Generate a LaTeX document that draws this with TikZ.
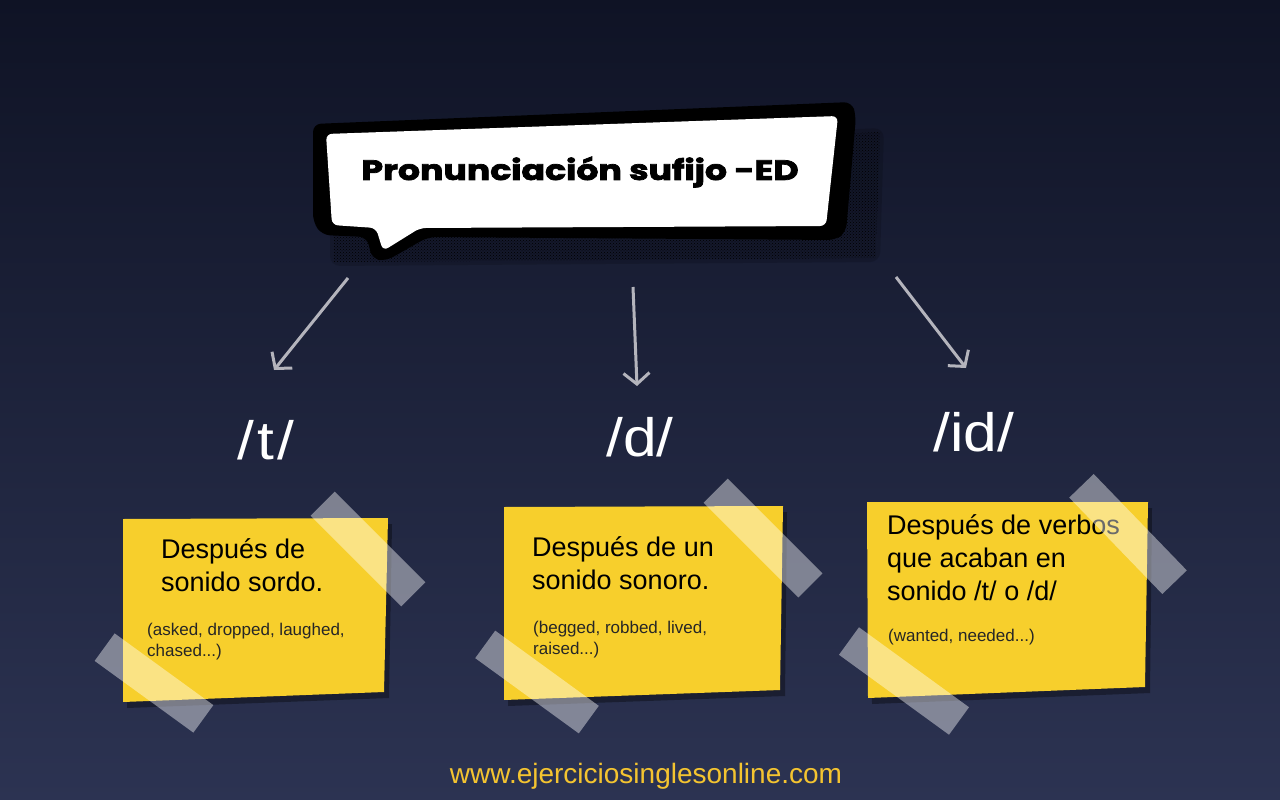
\documentclass[tikz,border=0pt]{standalone}
\usepackage{fontspec}
\setmainfont{Liberation Sans}
\newfontfamily\titlefont{Poppins}[BoldFeatures={FakeBold=2.5}]
\usetikzlibrary{arrows.meta,patterns}
\definecolor{bgtop}{RGB}{15,19,37}
\definecolor{bgbot}{RGB}{44,51,82}
\definecolor{notecol}{RGB}{247,207,44}
\definecolor{arrowcol}{RGB}{180,180,188}
\definecolor{webcol}{RGB}{244,196,48}
\tikzset{
  tape/.style={fill=white, fill opacity=0.42, inner sep=0pt},
  bigtxt/.style={anchor=north west, inner sep=0pt, align=left, font=\fontsize{27}{33}\selectfont, text=black},
  smalltxt/.style={anchor=north west, inner sep=0pt, align=left, font=\fontsize{17}{21}\selectfont, text=black!85},
  phon/.style={inner sep=0pt, text=white, font=\fontsize{54}{60}\selectfont, xscale=1.12},
  conn/.style={draw=arrowcol, line width=3pt, -{Straight Barb[length=11pt,width=26pt]}},
  noteshadow/.style={fill=black, opacity=0.35}
}
\begin{document}
\begin{tikzpicture}[x=1pt,y=-1pt]
\useasboundingbox (0,0) rectangle (1280,800);
\shade[top color=bgtop, bottom color=bgbot] (0,0) rectangle (1280,800);

% halftone shadow of bubble
\fill[black, opacity=0.15, rounded corners=10pt] (330,150) -- (884,128) -- (880,262) -- (330,266) -- cycle;
\fill[pattern=crosshatch dots, pattern color=black] (334,154) -- (880,132) -- (876,258) -- (334,262) -- cycle;
% speech bubble
\fill[black, rounded corners=8pt] (313,124) -- (852,102) -- (856,116) -- (846,232) -- (836,240) -- (428,237) -- (386,261) -- (372,259) -- (367,237) -- (322,235) -- (313,222) -- cycle;
\fill[white, rounded corners=6pt] (326,134) -- (838,116) -- (826,226) -- (420,228) -- (383,251) -- (376,228) -- (332,225) -- cycle;
\node[inner sep=0pt, xscale=1.24, font=\titlefont\bfseries\fontsize{28}{30}\selectfont] (title) at (580,172) {Pronunciación sufijo -ED};

% arrows
\coordinate (s1) at (348,278);
\coordinate (e1) at (274,370);
\coordinate (s2) at (633,287);
\coordinate (e2) at (637,386);
\coordinate (s3) at (896,277);
\coordinate (e3) at (966,368);
\draw[conn] (s1) -- (e1);
\draw[conn] (s2) -- (e2);
\draw[conn] (s3) -- (e3);

% phoneme labels
\node[phon] (t) at (266,440) {/\kern3pt t\kern3pt/};
\node[phon] (d) at (640,437) {/d/};
\node[phon] (id) at (974,432) {/id/};

% sticky notes
\fill[noteshadow] (127,525) -- (392,524) -- (389,698) -- (127,708) -- cycle;
\fill[notecol] (123,519) -- (388,518) -- (384,692) -- (123,702) -- cycle;
\fill[noteshadow] (508,513) -- (787,512) -- (785,696) -- (508,706) -- cycle;
\fill[notecol] (504,507) -- (783,506) -- (780,690) -- (504,700) -- cycle;
\fill[noteshadow] (871,508) -- (1152,508) -- (1150,693) -- (872,704) -- cycle;
\fill[notecol] (867,502) -- (1148,502) -- (1145,687) -- (868,698) -- cycle;

% note texts
\node[bigtxt] (n1a) at (161,538) {Después de\\sonido sordo.};
\node[smalltxt] (n1b) at (147,623) {(asked, dropped, laughed,\\chased...)};
\node[bigtxt] (n2a) at (532,536) {Después de un\\sonido sonoro.};
\node[smalltxt] (n2b) at (533,621) {(begged, robbed, lived,\\raised...)};
\node[bigtxt] (n3a) at (887,514) {Después de verbos\\que acaban en\\sonido /t/ o /d/};
\node[smalltxt] (n3b) at (888,629) {(wanted, needed...)};

% tapes
\node[tape, rotate=-45, minimum width=128pt, minimum height=34pt] (tp1) at (368,549) {};
\node[tape, rotate=-36, minimum width=122pt, minimum height=34pt] (tp2) at (154,683) {};
\node[tape, rotate=-45, minimum width=134pt, minimum height=34pt] (tp3) at (763,538) {};
\node[tape, rotate=-36, minimum width=128pt, minimum height=34pt] (tp4) at (537,682) {};
\node[tape, rotate=-46, minimum width=134pt, minimum height=34pt] (tp5) at (1128,534) {};
\node[tape, rotate=-36, minimum width=136pt, minimum height=34pt] (tp6) at (904,681) {};

% footer
\node[inner sep=0pt, text=webcol, font=\fontsize{28}{30}\selectfont] (web) at (646,776) {www.ejerciciosinglesonline.com};
\end{tikzpicture}
\end{document}
